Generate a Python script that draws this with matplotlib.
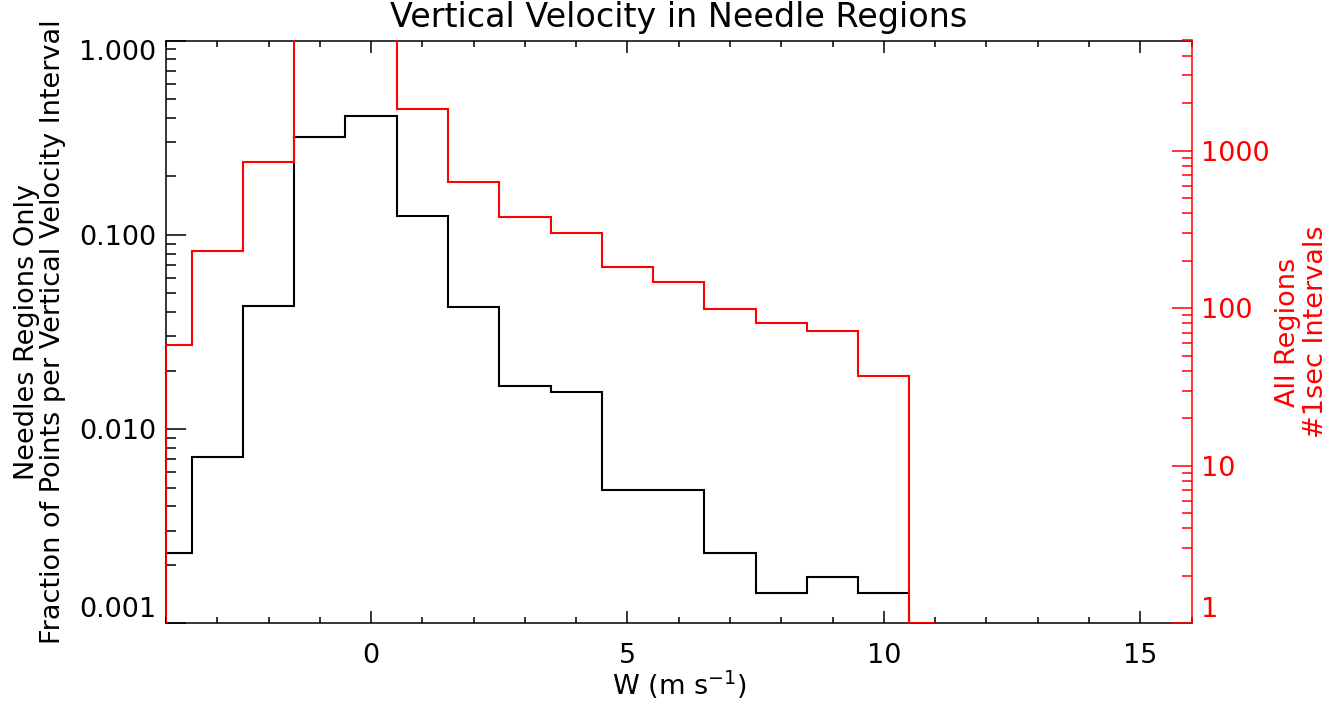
import numpy as np
import matplotlib
matplotlib.use("Agg")
import matplotlib.pyplot as plt
from matplotlib.ticker import LogLocator, NullFormatter, MultipleLocator, FixedLocator

# Histogram bins of vertical velocity W (m/s), 1 m/s wide, centred on integers
w_bins = [-4, -3, -2, -1, 0, 1, 2, 3, 4, 5, 6, 7, 8, 9, 10, 11]

# Needle regions only: fraction of points per interval (left axis)
needles_frac = [0.00231, 0.00719, 0.0429, 0.318, 0.410, 0.1245, 0.0426, 0.01667,
                0.0156, 0.00486, 0.00486, 0.00231, 0.00143, 0.00173, 0.00143, 0]

# All regions: number of 1 s intervals (right axis); bins -1 and 0 run off the top
all_counts = [58, 232, 853, 9000, 15000, 1850, 631, 380, 301, 182, 147, 98.6,
              81.1, 71.8, 37.0, 1]

left_ticks = [0.001, 0.01, 0.1, 1.0]
left_labels = ["0.001", "0.010", "0.100", "1.000"]
right_ticks = [1, 10, 100, 1000]
right_labels = ["1", "10", "100", "1000"]

# bin edges, half width at both ends (histogram mode)
c = np.array(w_bins, dtype=float)
edges = np.concatenate([[c[0]], (c[:-1] + c[1:]) / 2, [c[-1]]])

W, H = 1331, 705
fig = plt.figure(figsize=(W / 100, H / 100), dpi=100)
x0, x1, y0, y1 = 166, 1191.5, 623.3, 40.5
ax = fig.add_axes([x0 / W, (H - y0) / H, (x1 - x0) / W, (y0 - y1) / H])

red = "#ff0000"
fs_tick = 19.5
fs_lab = 19.5

ax.stairs(needles_frac, edges, baseline=None, color="black", lw=1.5)
ax.set_yscale("log")
ax.set_ylim(0.001, 1.0)
ax.set_xlim(-4, 16)

ax.xaxis.set_major_locator(FixedLocator([0, 5, 10, 15]))
ax.xaxis.set_minor_locator(MultipleLocator(1))
ax.set_yticks(left_ticks, left_labels)
ax.yaxis.set_minor_locator(LogLocator(base=10, subs=np.arange(2, 10)))
ax.yaxis.set_minor_formatter(NullFormatter())

ax.tick_params(axis="x", which="both", direction="in", top=True, bottom=True,
               labelsize=fs_tick, pad=14, width=1.1)
ax.tick_params(axis="x", which="major", length=8.6)
ax.tick_params(axis="x", which="minor", length=4.3)
ax.tick_params(axis="y", which="both", direction="in", left=True, right=False,
               labelsize=fs_tick, pad=7, width=1.1)
ax.tick_params(axis="y", which="major", length=14.4)
ax.tick_params(axis="y", which="minor", length=7.2)
for s in ["left", "top", "bottom"]:
    ax.spines[s].set_linewidth(1.1)
ax.spines["right"].set_visible(False)

ylabs = ax.get_yticklabels()
ylabs[0].set_va("bottom")
ylabs[-1].set_va("top")

ax.set_title("Vertical Velocity in Needle Regions", fontsize=24, pad=10)
ax.set_xlabel("W (m s$^{-1}$)", fontsize=fs_lab)
ax.xaxis.set_label_coords(0.5, -0.078)
ax.set_ylabel("Needles Regions Only\nFraction of Points per Vertical Velocity Interval",
              fontsize=fs_lab, linespacing=1.0)
ax.yaxis.set_label_coords(-0.098, 0.5)

# right axis, all regions
ax2 = ax.twinx()
ax2.stairs(all_counts, edges, baseline=1, color=red, lw=1.5)
ax2.set_yscale("log")
ax2.set_ylim(1, 5000)
ax2.set_yticks(right_ticks, right_labels)
ax2.yaxis.set_minor_locator(LogLocator(base=10, subs=np.arange(2, 10)))
ax2.yaxis.set_minor_formatter(NullFormatter())
ax2.tick_params(axis="y", which="both", direction="in", colors=red,
                labelsize=fs_tick, pad=7, width=1.1)
ax2.tick_params(axis="y", which="major", length=14.4)
ax2.tick_params(axis="y", which="minor", length=7.2)
for s in ["left", "top", "bottom"]:
    ax2.spines[s].set_visible(False)
ax2.spines["right"].set_color(red)
ax2.spines["right"].set_linewidth(1.1)
rlabs = ax2.get_yticklabels()
rlabs[0].set_va("bottom")
ax2.set_ylabel("All Regions\n#1sec Intervals", color=red, fontsize=fs_lab,
               linespacing=1.1)
ax2.yaxis.set_label_coords(1.081, 0.5)

fig.savefig("out.png", dpi=100)
